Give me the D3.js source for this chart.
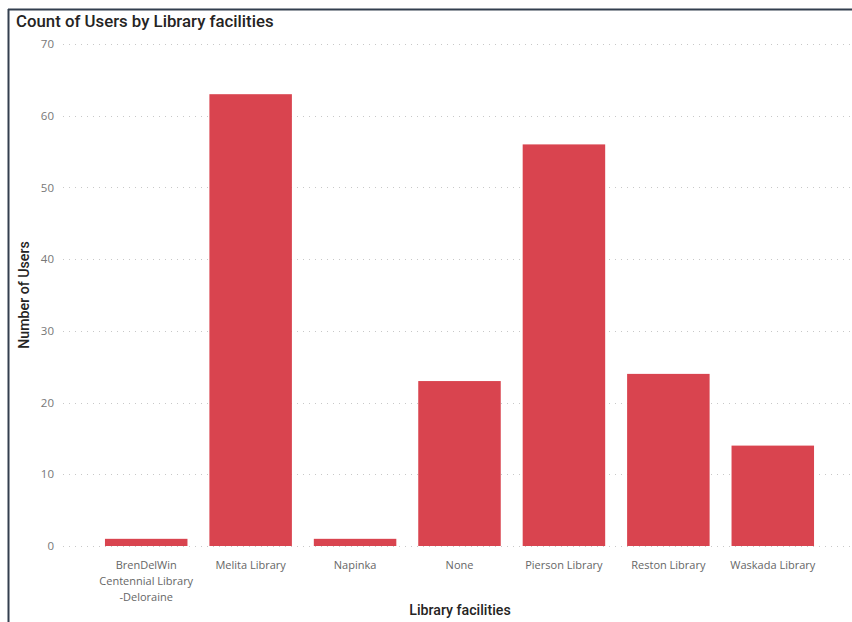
<!DOCTYPE html>
<html><head><meta charset="utf-8">
<script src="https://cdn.jsdelivr.net/npm/d3@7"></script>
<style>
html,body{margin:0;padding:0;background:#fff;}
svg{display:block;}
</style></head>
<body>
<svg id="chart" width="852" height="622"></svg>
<script>
const categories = ["BrenDelWin Centennial Library -Deloraine","Melita Library","Napinka","None","Pierson Library","Reston Library","Waskada Library"];
const categoryLines = [["BrenDelWin","Centennial Library","-Deloraine"],["Melita Library"],["Napinka"],["None"],["Pierson Library"],["Reston Library"],["Waskada Library"]];
const users = [1,63,1,23,56,24,14];
const yTicks = [0,10,20,30,40,50,60,70];

const svg = d3.select("#chart");
const x = d3.scaleBand().domain(categories).range([94,825]).paddingInner(0.21).paddingOuter(0.105);
const y = d3.scaleLinear().domain([0,70]).range([546,44]);

// border
svg.append("line").attr("x1",8).attr("x2",852).attr("y1",9.5).attr("y2",9.5).attr("stroke","#333f4f").attr("stroke-width",2);
svg.append("line").attr("x1",8.5).attr("x2",8.5).attr("y1",9).attr("y2",622).attr("stroke","#333f4f").attr("stroke-width",2);

// title
svg.append("text").attr("x",16).attr("y",27).text("Count of Users by Library facilities")
  .attr("font-family","Roboto, 'Noto Sans', sans-serif").attr("font-size",16.8).attr("font-weight",500).attr("fill","#252423");

// grid
const grid = svg.append("g");
grid.selectAll("line").data(yTicks).join("line")
  .attr("x1",63).attr("x2",852).attr("y1",d=>Math.round(y(d))+0.5).attr("y2",d=>Math.round(y(d))+0.5)
  .attr("stroke","#c8c8c8").attr("stroke-width",1).attr("stroke-dasharray","1,5");

// y axis
const yAxis = d3.axisLeft(y).tickValues(yTicks).tickSize(0).tickPadding(0);
const yg = svg.append("g").attr("transform","translate(54,0)").call(yAxis);
yg.select(".domain").remove();
yg.selectAll("text").attr("font-family","'Open Sans', 'Noto Sans', sans-serif").attr("font-size",11.5).attr("fill","#777777");

// bars
svg.append("g").selectAll("rect").data(users).join("rect")
  .attr("x",(d,i)=>x(categories[i])).attr("width",x.bandwidth())
  .attr("y",d=>y(d)).attr("height",d=>y(0)-y(d)).attr("fill","#d9444f");

// x axis
const xAxis = d3.axisBottom(x).tickSize(0).tickFormat("");
const xg = svg.append("g").attr("transform","translate(0,546)").call(xAxis);
xg.select(".domain").remove();
xg.selectAll(".tick").each(function(d,i){
  const t = d3.select(this).append("text").attr("fill","#666666").attr("text-anchor","middle")
    .attr("font-family","'Open Sans', 'Noto Sans', sans-serif").attr("font-size",11);
  categoryLines[i].forEach((ln,j)=>{
    t.append("tspan").attr("x",0).attr("y",23+j*16).text(ln);
  });
});

// axis titles
svg.append("text").attr("x",460).attr("y",615).attr("text-anchor","middle").text("Library facilities")
  .attr("font-family","Roboto, 'Noto Sans', sans-serif").attr("font-size",14.2).attr("font-weight",500).attr("fill","#252423");
svg.append("text").attr("transform","translate(29,295) rotate(-90)").attr("text-anchor","middle").text("Number of Users")
  .attr("font-family","Roboto, 'Noto Sans', sans-serif").attr("font-size",14.2).attr("font-weight",500).attr("fill","#252423");
</script>
</body></html>
